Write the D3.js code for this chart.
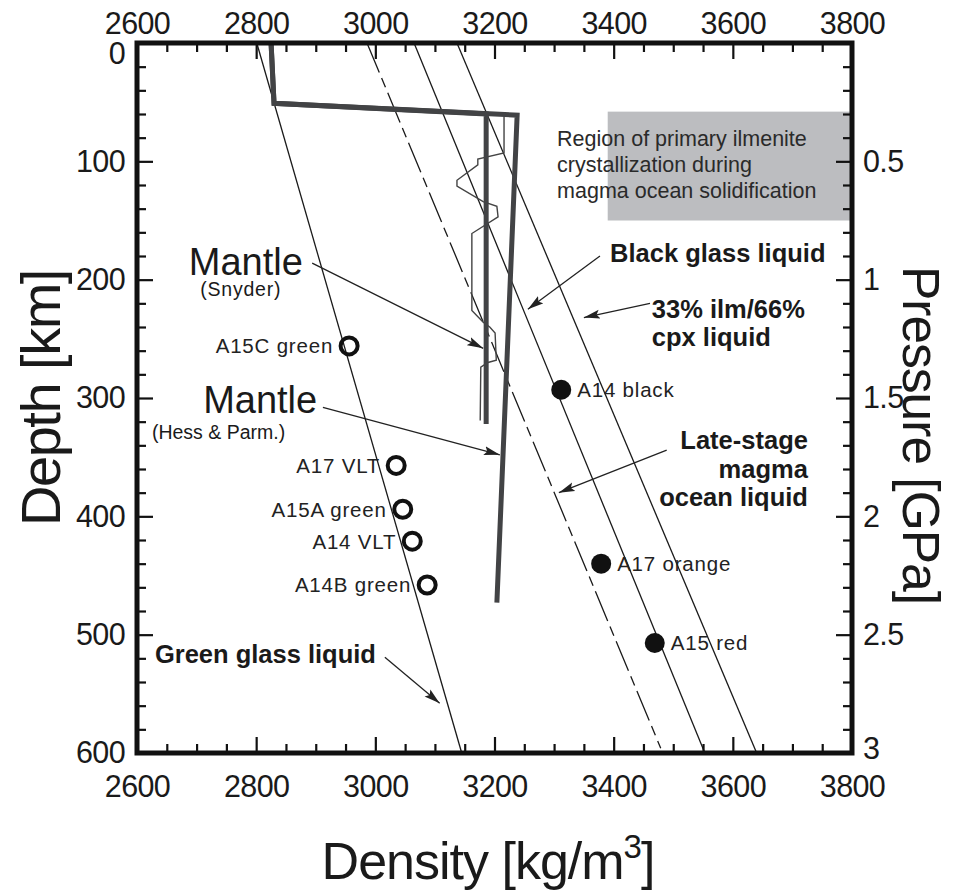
<!DOCTYPE html>
<html>
<head>
<meta charset="utf-8">
<script src="https://cdn.jsdelivr.net/npm/d3@7"></script>
<style>
  html, body { margin: 0; padding: 0; background: #fff; }
  svg { display: block; font-family: "Liberation Sans", Arial, Helvetica, sans-serif; }
</style>
</head>
<body>
<svg id="chart" width="955" height="891"></svg>
<script>
// ---------- data ----------
const densityTicks = [2600, 2800, 3000, 3200, 3400, 3600, 3800];
const depthTicks = [0, 100, 200, 300, 400, 500, 600];
const pressureTicks = [0.5, 1, 1.5, 2, 2.5, 3];

// liquid density profiles [density, depth]
const greenGlassLiquid = [[2801, 0], [3145, 600]];
const lateStageLiquid = [[2986, 0], [3479, 596]];
const blackGlassLiquid = [[3065, 0], [3553, 600]];
const ilmCpxLiquid = [[3137, 0], [3640, 600]];

// mantle density models
const mantleSnyder = [[2825, 0], [2830, 51], [3186, 60], [3186, 322]];
const mantleHess = [[2825, 0], [2830, 51], [3238, 61], [3204, 473]];
const snyderProfile = [[3216, 62], [3216, 93], [3172, 98], [3172, 103], [3137, 116], [3137, 121],
  [3181, 134], [3204, 138], [3206, 147], [3162, 161], [3162, 226], [3181, 236], [3192, 240],
  [3201, 245], [3203, 268], [3189, 270], [3177, 274], [3176, 319]];

// glass samples: name, density, depth, type
const glassNames = ["A15C green", "A17 VLT", "A15A green", "A14 VLT", "A14B green", "A14 black", "A17 orange", "A15 red"];
const glassDensity = [2956, 3035, 3046, 3062, 3087, 3312, 3379, 3469];
const glassDepth = [256, 357, 394, 421, 458, 293, 440, 507];
const glassFilled = [false, false, false, false, false, true, true, true];

// ilmenite crystallization region [d0, d1, z0, z1]
const ilmRegion = [3390, 3800, 58, 150];

// ---------- setup ----------
const svg = d3.select("#chart");
const x = d3.scaleLinear().domain([2600, 3800]).range([137, 852]);
const y = d3.scaleLinear().domain([0, 600]).range([43, 753]);
const yP = d3.scaleLinear().domain([0, 3]).range([43, 753]);
const line = d3.line().x(d => x(d[0])).y(d => y(d[1]));

const defs = svg.append("defs");
defs.append("marker").attr("id", "arrow").attr("viewBox", "0 -5 16 10")
  .attr("refX", 16).attr("refY", 0).attr("markerWidth", 16).attr("markerHeight", 10)
  .attr("markerUnits", "userSpaceOnUse").attr("orient", "auto")
  .append("path").attr("d", "M0,-4.5L16,0L0,4.5L3,0Z").attr("fill", "#222");

// region box
svg.append("rect")
  .attr("x", x(ilmRegion[0])).attr("y", y(ilmRegion[2]))
  .attr("width", x(ilmRegion[1]) - x(ilmRegion[0]))
  .attr("height", y(ilmRegion[3]) - y(ilmRegion[2]))
  .attr("fill", "#bcbdc0");

const regionLines = ["Region of primary ilmenite", "crystallization during", "magma ocean solidification"];
const regionBase = [87, 109, 131];
regionLines.forEach((t, i) => {
  svg.append("text").attr("x", x(3305)).attr("y", y(regionBase[i]))
    .attr("font-size", 21.5).attr("fill", "#2a2a2a").text(t);
});

// liquid lines
[greenGlassLiquid, blackGlassLiquid, ilmCpxLiquid].forEach(d => {
  svg.append("path").attr("d", line(d)).attr("fill", "none")
    .attr("stroke", "#1a1a1a").attr("stroke-width", 1.3);
});
svg.append("path").attr("d", line(lateStageLiquid)).attr("fill", "none")
  .attr("stroke", "#1a1a1a").attr("stroke-width", 1.3)
  .attr("stroke-dasharray", "32,6,10,6");

// snyder thin profile
svg.append("path").attr("d", line(snyderProfile)).attr("fill", "none")
  .attr("stroke", "#444").attr("stroke-width", 1.4);

// mantle thick lines
[mantleSnyder, mantleHess].forEach(d => {
  svg.append("path").attr("d", line(d)).attr("fill", "none")
    .attr("stroke", "#424345").attr("stroke-width", 5).attr("stroke-linejoin", "miter");
});

// glass points
glassNames.forEach((n, i) => {
  const cx = x(glassDensity[i]), cy = y(glassDepth[i]);
  if (glassFilled[i]) {
    svg.append("circle").attr("cx", cx).attr("cy", cy).attr("r", 10).attr("fill", "#111");
    svg.append("text").attr("x", cx + 16).attr("y", cy + 7.5)
      .attr("font-size", 20.5).attr("letter-spacing", 0.8).attr("fill", "#222").text(n);
  } else {
    svg.append("circle").attr("cx", cx).attr("cy", cy).attr("r", 8.5)
      .attr("fill", "none").attr("stroke", "#111").attr("stroke-width", 4);
    svg.append("text").attr("x", cx - 16).attr("y", cy + 7.5).attr("text-anchor", "end")
      .attr("font-size", 20.5).attr("letter-spacing", 0.8).attr("fill", "#222").text(n);
  }
});

// arrows [from density, depth, to density, depth]
const arrows = [
  [2894, 186, 3181, 258],
  [2912, 308, 3209, 348],
  [3377, 180, 3256, 225],
  [3461, 220, 3350, 232],
  [3489, 344, 3308, 380],
  [3016, 519, 3108, 558]
];
arrows.forEach(a => {
  svg.append("line").attr("x1", x(a[0])).attr("y1", y(a[1])).attr("x2", x(a[2])).attr("y2", y(a[3]))
    .attr("stroke", "#222").attr("stroke-width", 1.3).attr("marker-end", "url(#arrow)");
});

// labels
const lab = (t, d, z, size, opts = {}) => svg.append("text").attr("x", x(d)).attr("y", y(z))
  .attr("font-size", size).attr("fill", "#1a1a1a")
  .attr("font-weight", opts.bold ? "bold" : "normal")
  .attr("text-anchor", opts.anchor || "start")
  .attr("letter-spacing", opts.ls || 0).text(t);

lab("Mantle", 2687, 196, 38);
lab("(Snyder)", 2706, 214, 19.5, {ls: 0.8});
lab("Mantle", 2711, 313, 38);
lab("(Hess & Parm.)", 2625, 335, 19.5, {ls: 0});
lab("Black glass liquid", 3394, 185, 25.5, {bold: true});
lab("33% ilm/66%", 3464, 232, 25.5, {bold: true});
lab("cpx liquid", 3464, 256, 25.5, {bold: true});
lab("Late-stage", 3726, 343, 25.5, {bold: true, anchor: "end"});
lab("magma", 3726, 368, 25.5, {bold: true, anchor: "end"});
lab("ocean liquid", 3726, 391, 25.5, {bold: true, anchor: "end"});
lab("Green glass liquid", 2630, 524, 25.5, {bold: true});

// ---------- axes ----------
const minorDens = d3.range(2600, 3801, 50).filter(v => v % 200 !== 0);
const minorDepth = d3.range(0, 601, 20).filter(v => v % 100 !== 0);
const minorP = minorDepth.map(v => v / 200);

function styleAxis(g) {
  g.selectAll(".domain").remove();
  g.selectAll(".tick line").attr("stroke", "#111").attr("stroke-width", 2.2);
  g.selectAll(".tick text").attr("fill", "#1a1a1a").attr("font-size", 30.5)
    .attr("font-family", "'Liberation Sans', Arial, sans-serif").attr("letter-spacing", -0.6);
}

// bottom
svg.append("g").attr("transform", `translate(0,${y(600)})`)
  .call(d3.axisBottom(x).tickValues(densityTicks).tickSize(-16).tickPadding(22).tickFormat(d3.format("d")))
  .call(styleAxis);
svg.append("g").attr("transform", `translate(0,${y(600)})`)
  .call(d3.axisBottom(x).tickValues(minorDens).tickSize(-9).tickFormat(""))
  .call(styleAxis);
// top
svg.append("g").attr("transform", `translate(0,${y(0)})`)
  .call(d3.axisTop(x).tickValues(densityTicks).tickSize(-16).tickPadding(9).tickFormat(d3.format("d")))
  .call(styleAxis);
svg.append("g").attr("transform", `translate(0,${y(0)})`)
  .call(d3.axisTop(x).tickValues(minorDens).tickSize(-9).tickFormat(""))
  .call(styleAxis);
// left
const leftG = svg.append("g").attr("transform", `translate(${x(2600)},0)`)
  .call(d3.axisLeft(y).tickValues(depthTicks).tickSize(-16).tickPadding(12).tickFormat(d3.format("d")))
  .call(styleAxis);
leftG.selectAll(".tick text").filter(d => d === 0).attr("y", 11);
svg.append("g").attr("transform", `translate(${x(2600)},0)`)
  .call(d3.axisLeft(y).tickValues(minorDepth).tickSize(-9).tickFormat(""))
  .call(styleAxis);
// right
const rightG = svg.append("g").attr("transform", `translate(${x(3800)},0)`)
  .call(d3.axisRight(yP).tickValues(pressureTicks).tickSize(-16).tickPadding(11).tickFormat(d => String(d)))
  .call(styleAxis);
rightG.selectAll(".tick text").filter(d => d === 3).attr("y", -4);
svg.append("g").attr("transform", `translate(${x(3800)},0)`)
  .call(d3.axisRight(yP).tickValues(minorP).tickSize(-9).tickFormat(""))
  .call(styleAxis);

// frame
svg.append("rect").attr("x", x(2600)).attr("y", y(0))
  .attr("width", x(3800) - x(2600)).attr("height", y(600) - y(0))
  .attr("fill", "none").attr("stroke", "#111").attr("stroke-width", 5);

// axis titles
svg.append("text").attr("transform", `translate(60,398) rotate(-90)`)
  .attr("text-anchor", "middle").attr("font-size", 56).attr("letter-spacing", -1.5)
  .attr("fill", "#1a1a1a").text("Depth [km]");
svg.append("text").attr("transform", `translate(903,435) rotate(90)`)
  .attr("text-anchor", "middle").attr("font-size", 51.5).attr("letter-spacing", -1)
  .attr("fill", "#1a1a1a").text("Pressure [GPa]");
const dt = svg.append("text").attr("x", 488).attr("y", 879)
  .attr("text-anchor", "middle").attr("font-size", 52).attr("letter-spacing", -1).attr("fill", "#1a1a1a");
dt.append("tspan").text("Density [kg/m");
dt.append("tspan").attr("font-size", 33).attr("dy", -21).text("3");
dt.append("tspan").attr("dy", 21).text("]");
</script>
</body>
</html>
